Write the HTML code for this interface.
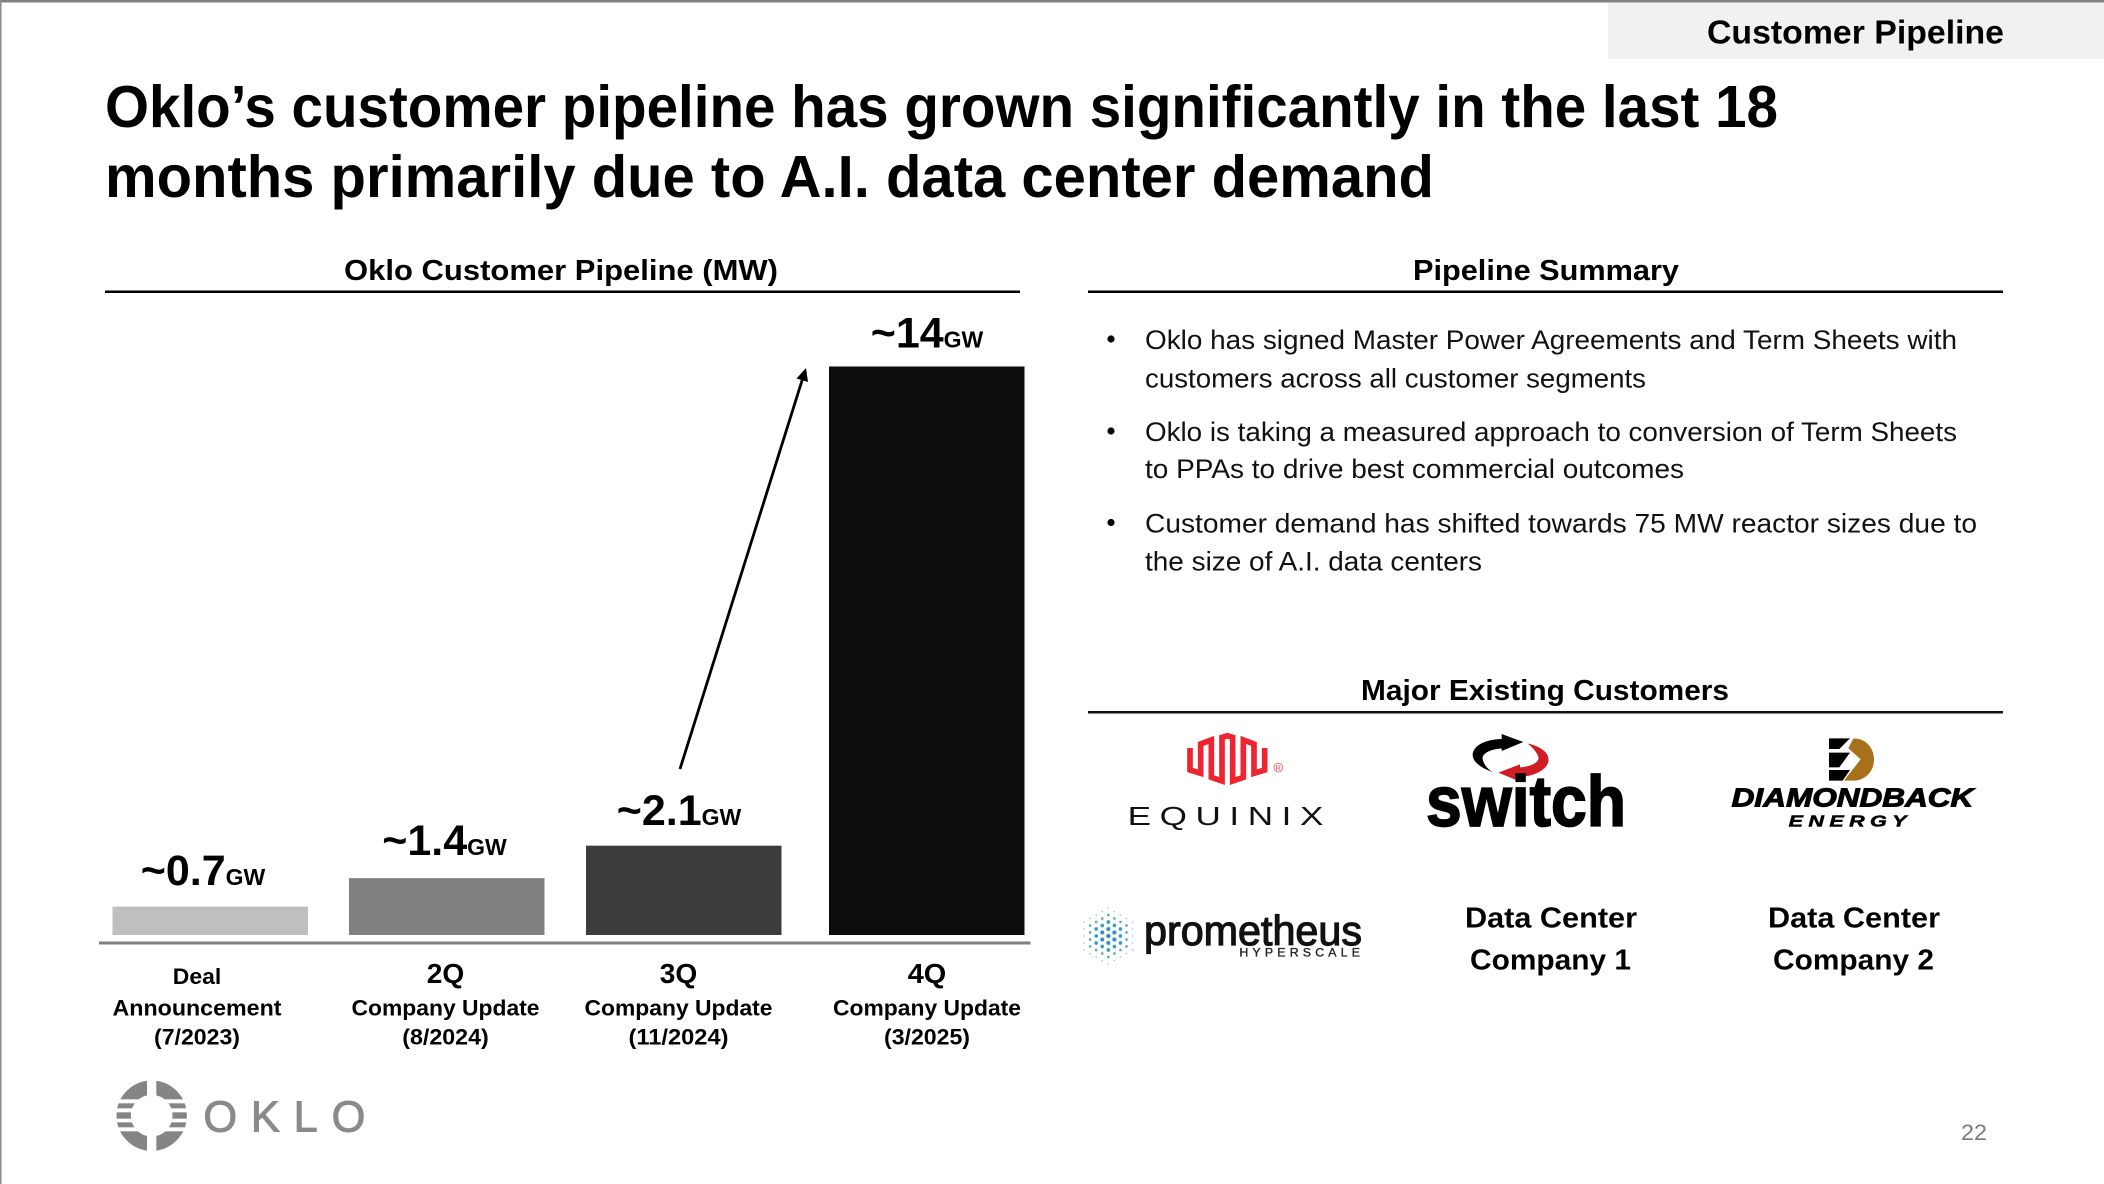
<!DOCTYPE html>
<html lang="en">
<head>
<meta charset="utf-8">
<title>Customer Pipeline</title>
<style>
html,body{margin:0;padding:0;background:#fff;}
svg{display:block;font-family:"Liberation Sans",sans-serif;}
.b{font-weight:700;fill:#000;}
.body{font-size:26.5px;fill:#111;}
</style>
</head>
<body>
<svg id="slide" xmlns="http://www.w3.org/2000/svg" width="2104" height="1184" viewBox="0 0 2104 1184">
<rect x="0" y="0" width="2104" height="1184" fill="#fff"/>
<rect x="0" y="0" width="2104" height="2.5" fill="#7f7f7f"/>
<rect x="0" y="0" width="1.5" height="1184" fill="#8a8a8a"/>

<rect x="1608" y="3" width="496" height="56" fill="#f1f1f1"/>
<text class="b" x="1707" y="43.5" font-size="33" textLength="297" lengthAdjust="spacingAndGlyphs">Customer Pipeline</text>

<text class="b" x="105" y="127" font-size="59" textLength="1673" lengthAdjust="spacingAndGlyphs">Oklo’s customer pipeline has grown significantly in the last 18</text>
<text class="b" x="105" y="197" font-size="59" textLength="1329" lengthAdjust="spacingAndGlyphs">months primarily due to A.I. data center demand</text>

<text class="b" x="344" y="280" font-size="28.5" textLength="434" lengthAdjust="spacingAndGlyphs">Oklo Customer Pipeline (MW)</text>
<rect x="105" y="290.5" width="915" height="2.5" fill="#000"/>

<g id="chart"></g>

<g>
<line x1="680" y1="769" x2="802.5" y2="379" stroke="#000" stroke-width="2.8"/>
<polygon points="806,368 808,382 796.5,378.5" fill="#000"/>
</g>

<text class="b" x="1413" y="280" font-size="28.5" textLength="266" lengthAdjust="spacingAndGlyphs">Pipeline Summary</text>
<rect x="1088" y="290.5" width="915" height="2.5" fill="#000"/>

<circle cx="1111" cy="339" r="3.6" fill="#000"/>
<text class="body" x="1145" y="349" textLength="812" lengthAdjust="spacingAndGlyphs">Oklo has signed Master Power Agreements and Term Sheets with</text>
<text class="body" x="1145" y="387.5" textLength="501" lengthAdjust="spacingAndGlyphs">customers across all customer segments</text>
<circle cx="1111" cy="431" r="3.6" fill="#000"/>
<text class="body" x="1145" y="441" textLength="812" lengthAdjust="spacingAndGlyphs">Oklo is taking a measured approach to conversion of Term Sheets</text>
<text class="body" x="1145" y="478" textLength="539" lengthAdjust="spacingAndGlyphs">to PPAs to drive best commercial outcomes</text>
<circle cx="1111" cy="522.5" r="3.6" fill="#000"/>
<text class="body" x="1145" y="532.5" textLength="832" lengthAdjust="spacingAndGlyphs">Customer demand has shifted towards 75 MW reactor sizes due to</text>
<text class="body" x="1145" y="570.5" textLength="337" lengthAdjust="spacingAndGlyphs">the size of A.I. data centers</text>

<text class="b" x="1361" y="700" font-size="28.5" textLength="368" lengthAdjust="spacingAndGlyphs">Major Existing Customers</text>
<rect x="1088" y="711" width="915" height="2.5" fill="#111"/>

<g transform="translate(1100 720) scale(0.33333)">
<path d="M270 84 V150 L302 160 V72 L334 60 V172 L366 183 V52 L382 47 L398 52 V183 L430 172 V60 L462 72 V160 L494 150 V84" fill="none" stroke="#ee2430" stroke-width="17" stroke-linejoin="miter"/>
<circle cx="535" cy="143" r="13" fill="none" stroke="#e8777c" stroke-width="3"/>
<text x="535" y="151" font-size="22" font-weight="700" text-anchor="middle" fill="#e8777c">R</text>
<text transform="translate(83 315) scale(1.35 1)" x="0" y="0" font-size="78" fill="#111" textLength="435" lengthAdjust="spacing">EQUINIX</text>
</g>

<g transform="translate(1410 720) scale(0.33333)">
<path d="M250 157 C200 140 170 110 200 80 C220 62 250 58 275 57 L275 42 L340 66 L275 93 L275 85 C240 88 215 100 218 118 C222 135 235 150 250 157 Z" fill="#000"/>
<path d="M352 70 C395 80 420 100 415 125 C410 150 370 170 330 170 L330 185 L265 158 L330 133 L330 142 C365 140 390 125 385 110 C380 95 365 80 352 70 Z" fill="#d01c24"/>
<text x="48" y="318" font-size="214" font-weight="700" fill="#000" stroke="#000" stroke-width="5" textLength="600" lengthAdjust="spacingAndGlyphs">switch</text>
</g>

<g transform="translate(1710 720) scale(0.33333)">
<polygon points="357,55 420,55 388,87 357,87" fill="#000"/>
<polygon points="357,98 420,98 388,142 357,142" fill="#000"/>
<polygon points="357,150 420,150 398,182 357,182" fill="#000"/>
<path d="M430 56 H440 C472 60 492 88 492 118 C492 155 465 182 430 182 H402 L452 118 L415 85 Z" fill="#a8701a"/>
<text x="65" y="260" font-size="78" font-weight="700" font-style="italic" fill="#000" stroke="#000" stroke-width="3" textLength="725" lengthAdjust="spacingAndGlyphs">DIAMONDBACK</text>
<text transform="translate(236 320) scale(1.35 1)" x="0" y="0" font-size="48" font-weight="700" font-style="italic" fill="#000" stroke="#000" stroke-width="1.5" textLength="262" lengthAdjust="spacing">ENERGY</text>
</g>

<g transform="translate(1070 890) scale(0.33333)">
<g id="hexdots"></g>
<text x="222" y="165" font-size="124" fill="#111" stroke="#111" stroke-width="3.5" textLength="654" lengthAdjust="spacingAndGlyphs">prometheus</text>
<text x="508" y="200" font-size="37" fill="#222" stroke="#222" stroke-width="1" textLength="362" lengthAdjust="spacing">HYPERSCALE</text>
</g>

<text class="b" x="1465" y="927.5" font-size="29" textLength="172" lengthAdjust="spacingAndGlyphs">Data Center</text>
<text class="b" x="1470" y="969.5" font-size="29" textLength="161" lengthAdjust="spacingAndGlyphs">Company 1</text>
<text class="b" x="1768" y="927.5" font-size="29" textLength="172" lengthAdjust="spacingAndGlyphs">Data Center</text>
<text class="b" x="1773" y="969.5" font-size="29" textLength="161" lengthAdjust="spacingAndGlyphs">Company 2</text>

<g transform="translate(100 1070) scale(0.33333)">
<circle cx="155" cy="137" r="84" fill="none" stroke="#858585" stroke-width="43"/>
<rect x="141" y="20" width="28" height="60" fill="#fff"/>
<rect x="141" y="195" width="28" height="60" fill="#fff"/>
<rect x="35" y="88" width="240" height="12" fill="#fff"/>
<rect x="35" y="115" width="240" height="12" fill="#fff"/>
<rect x="35" y="146" width="240" height="11" fill="#fff"/>
<rect x="35" y="172" width="240" height="12" fill="#fff"/>
<text x="310" y="185" font-size="130" fill="#8a8a8a" stroke="#8a8a8a" stroke-width="3" textLength="486" lengthAdjust="spacing">OKLO</text>
</g>

<text x="1961" y="1140" font-size="22" fill="#7a7a7a" textLength="26" lengthAdjust="spacingAndGlyphs">22</text>
</svg>

<script>
const categoryTop = ["Deal", "2Q", "3Q", "4Q"];
const categoryMid = ["Announcement", "Company Update", "Company Update", "Company Update"];
const categoryDate = ["(7/2023)", "(8/2024)", "(11/2024)", "(3/2025)"];
const pipelineGW = [0.7, 1.4, 2.2, 14];
const valueLabels = ["~0.7", "~1.4", "~2.1", "~14"];
const valueUnit = "GW";
const barColors = ["#bfbfbf", "#808080", "#3c3c3c", "#0d0d0d"];

const SVGNS = "http://www.w3.org/2000/svg";

function yScale(v) {
  const baseY = 935;
  const pxPerGW = 568.5 / 14;
  return baseY - v * pxPerGW;
}

function drawChart() {
  const chart = document.getElementById("chart");
  const slotLeft = [112.5, 349, 586, 829];
  const barWidth = 195.5;
  const valueCenter = [203, 444.5, 679, 927];
  const categoryCenter = [197, 445.5, 678.5, 927];
  const labelGap = [21.5, 23, 20.5, 19];
  const fitWidths = {
    "Deal": 48.5, "Announcement": 169, "Company Update": 188,
    "2Q": 37.5, "3Q": 37.5, "4Q": 38.5,
    "(7/2023)": 86, "(8/2024)": 86.5, "(11/2024)": 100, "(3/2025)": 86
  };

  pipelineGW.forEach(function (v, i) {
    const top = yScale(v);
    const bar = document.createElementNS(SVGNS, "rect");
    
    
    bar.setAttribute("x", slotLeft[i]);
    bar.setAttribute("y", top);
    bar.setAttribute("width", barWidth);
    bar.setAttribute("height", yScale(0) - top);
    bar.setAttribute("fill", barColors[i]);
    chart.appendChild(bar);

    const label = document.createElementNS(SVGNS, "text");
    
    
    label.setAttribute("x", valueCenter[i]);
    label.setAttribute("y", top - labelGap[i]);
    label.setAttribute("text-anchor", "middle");
    label.setAttribute("font-size", "43");
    label.setAttribute("font-weight", "700");
    label.textContent = valueLabels[i];
    const unit = document.createElementNS(SVGNS, "tspan");
    
    
    unit.setAttribute("font-size", "23");
    unit.textContent = valueUnit;
    label.appendChild(unit);
    chart.appendChild(label);

    const rows = [
      { text: categoryTop[i], y: i === 0 ? 984 : 983, size: i === 0 ? 22 : 27.5 },
      { text: categoryMid[i], y: 1015.5, size: 22 },
      { text: categoryDate[i], y: 1044.5, size: 22 }
    ];
    rows.forEach(function (row, r) {
      const t = document.createElementNS(SVGNS, "text");
      
      
      const w = fitWidths[row.text];
      t.setAttribute("x", categoryCenter[i] - w / 2);
      t.setAttribute("y", row.y);
      t.setAttribute("font-size", row.size);
      t.setAttribute("font-weight", "700");
      t.setAttribute("textLength", w);
      t.setAttribute("lengthAdjust", "spacingAndGlyphs");
      t.textContent = row.text;
      chart.appendChild(t);
    });
  });

  const axis = document.createElementNS(SVGNS, "rect");
  
  
  axis.setAttribute("x", 99);
  axis.setAttribute("y", 941.5);
  axis.setAttribute("width", 931.5);
  axis.setAttribute("height", 3);
  axis.setAttribute("fill", "#7f7f7f");
  chart.appendChild(axis);
}

function drawHexMark() {
  const g = document.getElementById("hexdots");
  const cx = 115, cy = 138, s = 21;
  for (let r = -4; r <= 4; r++) {
    for (let q = -4; q <= 4; q++) {
      const d = Math.max(Math.abs(q), Math.abs(r), Math.abs(q + r));
      if (d > 4) continue;
      const c = document.createElementNS(SVGNS, "circle");
      c.setAttribute("cx", cx + r * s * 0.866);
      c.setAttribute("cy", cy + (q + r / 2) * s);
      c.setAttribute("r", [6.5, 6, 5.5, 4, 2.4][d]);
      c.setAttribute("fill", ["#2a86c4", "#2c8fc6", "#3a9fc0", "#58b0b8", "#9cc0cc"][d]);
      g.appendChild(c);
    }
  }
}

drawChart();
drawHexMark();
</script>
</body>
</html>
